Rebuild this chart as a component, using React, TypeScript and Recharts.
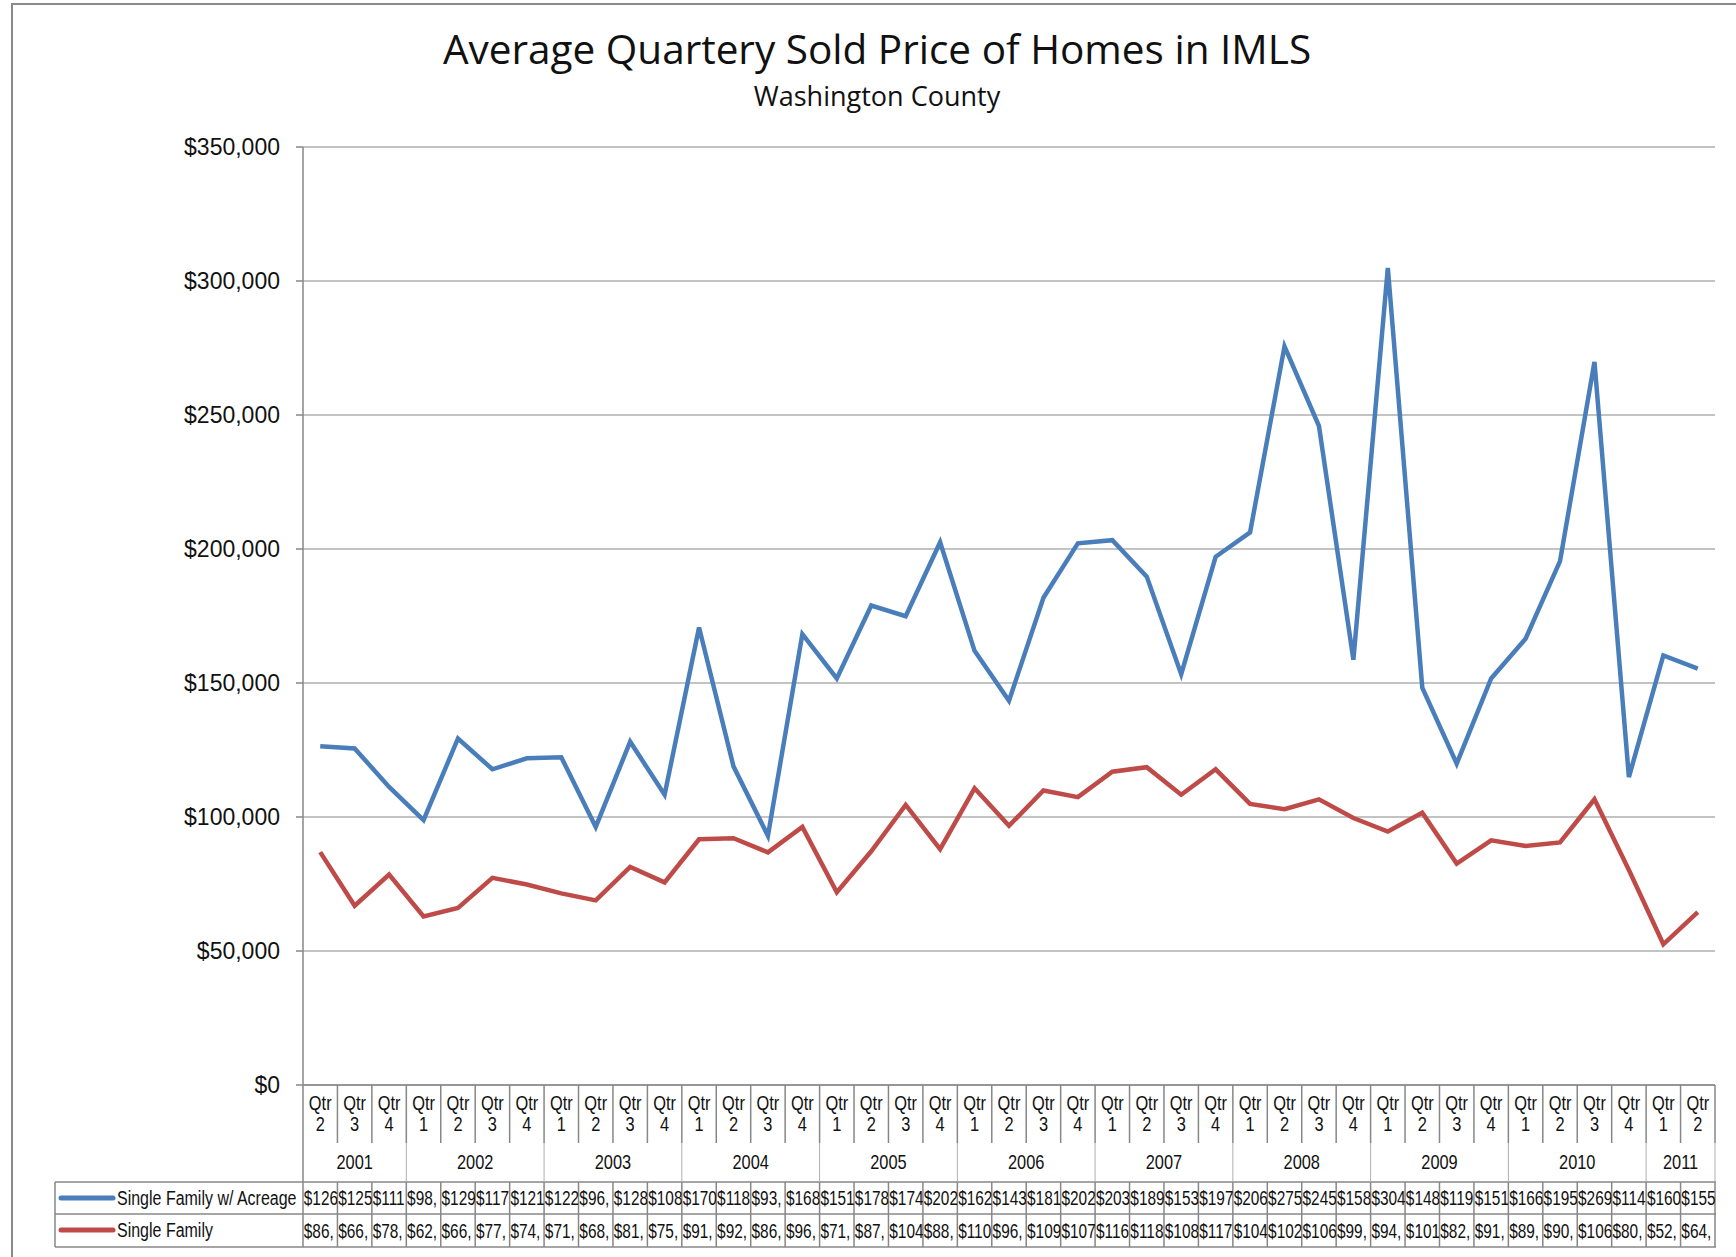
import { LineChart, Line, XAxis, YAxis, CartesianGrid } from "recharts";

// quarters shown under each year, Q2 2001 .. Q2 2011
const years = ["2001", "2002", "2003", "2004", "2005", "2006", "2007", "2008", "2009", "2010", "2011"];
const quartersPerYear = [
  [2, 3, 4],
  [1, 2, 3, 4],
  [1, 2, 3, 4],
  [1, 2, 3, 4],
  [1, 2, 3, 4],
  [1, 2, 3, 4],
  [1, 2, 3, 4],
  [1, 2, 3, 4],
  [1, 2, 3, 4],
  [1, 2, 3, 4],
  [1, 2],
];

const acreage = [
  126400, 125600, 111200, 98800, 129300, 117800, 121900, 122300, 96300, 128100, 108300,
  170700, 118900, 93000, 168200, 151700, 178900, 174900, 202500, 162000, 143400, 181800,
  202100, 203300, 189700, 153300, 197100, 206200, 275600, 245900, 158700, 304900, 148300,
  119900, 151700, 166500, 195500, 269800, 114900, 160300, 155400,
];
const singleFamily = [
  86900, 66900, 78500, 62900, 66100, 77300, 74800, 71500, 68900, 81400, 75600, 91700,
  92100, 86800, 96300, 71900, 87200, 104500, 88000, 110700, 96700, 109900, 107400, 116900,
  118600, 108300, 117800, 104900, 102900, 106600, 99600, 94600, 101600, 82600, 91300,
  89200, 90500, 106600, 80200, 52500, 64500,
];

const yTicks = [0, 50000, 100000, 150000, 200000, 250000, 300000, 350000];

const seriesNames = ["Single Family w/ Acreage", "Single Family"];
const BLUE = "#4a7ebb";
const RED = "#be4b48";
const GRID = "#878787";

const W = 1736;
const H = 1257;
const PLOT_L = 303;
const PLOT_R = 1715;
const PLOT_T = 147;
const PLOT_B = 1085;
const BAND = (PLOT_R - PLOT_L) / acreage.length;

const SANS = '"Liberation Sans", Arial, sans-serif';

// flatten quarters with their year info
const cats: { q: number; yearIdx: number; firstOfYear: boolean; lastOfYear: boolean }[] = [];
quartersPerYear.forEach((qs, yi) => {
  qs.forEach((q, k) => {
    cats.push({ q, yearIdx: yi, firstOfYear: k === 0, lastOfYear: k === qs.length - 1 });
  });
});

const data = cats.map((c, i) => ({
  key: `${years[c.yearIdx]} Q${c.q}`,
  acreage: acreage[i],
  single: singleFamily[i],
}));

// the table cells are too narrow, so values appear cut off
const cellText = (v: number) => "$" + Math.floor(v / 1000) + (v < 100000 ? "," : "");

const ROW1_T = 1182;
const ROW2_T = 1214;
const ROW_B = 1247;
const TABLE_L = 55;
const QSEP_B = 1143;
const FS = 20;

// no narrow font installed: squeeze Liberation Sans horizontally
function NText(props: { x: number; y: number; anchor?: string; size?: number; sx?: number; children: any }) {
  const { x, y, anchor = "middle", size = FS, sx = 0.82, children } = props;
  return (
    <text
      transform={`translate(${x},${y}) scale(${sx},1)`}
      textAnchor={anchor}
      fontFamily={SANS}
      fontSize={size}
      fill="#111"
    >
      {children}
    </text>
  );
}

function Cell(props: { left: number; top: number; h: number; text: string }) {
  const { left, top, h, text } = props;
  return (
    <svg x={left} y={top} width={BAND} height={h} overflow="hidden">
      <NText x={0.8} y={h / 2 + 7} anchor="start" size={19.5} sx={0.79}>
        {text}
      </NText>
    </svg>
  );
}

function TableTick(props: any) {
  const { x, payload } = props;
  const i = payload.index;
  const c = cats[i];
  const left = x - BAND / 2;
  const right = x + BAND / 2;
  const line = { stroke: GRID, strokeWidth: 1.5 };
  const yearLen = quartersPerYear[c.yearIdx].length;

  return (
    <g>
      <NText x={x} y={1110}>Qtr</NText>
      <NText x={x} y={1131}>{c.q}</NText>
      <line x1={right} x2={right} y1={PLOT_B} y2={QSEP_B} {...line} />
      {c.lastOfYear && <line x1={right} x2={right} y1={QSEP_B} y2={ROW1_T} stroke="#b0b0b0" strokeWidth={1} />}
      <line x1={right} x2={right} y1={ROW1_T} y2={ROW_B} {...line} />
      {c.firstOfYear && (
        <NText x={left + (yearLen * BAND) / 2} y={1169}>
          {years[c.yearIdx]}
        </NText>
      )}
      <Cell left={left} top={ROW1_T} h={ROW2_T - ROW1_T} text={cellText(acreage[i])} />
      <Cell left={left} top={ROW2_T} h={ROW_B - ROW2_T} text={cellText(singleFamily[i])} />
      {i === 0 && (
        <g>
          <line x1={left} x2={left} y1={PLOT_B} y2={ROW_B} {...line} />
          <line x1={TABLE_L} x2={TABLE_L} y1={ROW1_T} y2={ROW_B} {...line} />
          {[ROW1_T, ROW2_T, ROW_B].map((yy) => (
            <line key={yy} x1={TABLE_L} x2={PLOT_R + 1} y1={yy} y2={yy} {...line} />
          ))}
          <line x1={61} x2={113} y1={1198} y2={1198} stroke={BLUE} strokeWidth={5} strokeLinecap="round" />
          <line x1={61} x2={113} y1={1230} y2={1230} stroke={RED} strokeWidth={5} strokeLinecap="round" />
          <NText x={117} y={1205} anchor="start" size={19.5}>
            {seriesNames[0]}
          </NText>
          <NText x={117} y={1237} anchor="start" size={19.5}>
            {seriesNames[1]}
          </NText>
        </g>
      )}
    </g>
  );
}

export default function App() {
  return (
    <div style={{ position: "absolute", left: 0, top: 0, width: W, height: H, background: "#fff" }}>
      <div
        style={{
          position: "absolute",
          left: 11,
          top: 3,
          width: W,
          height: H,
          borderLeft: "2px solid #8a8a8a",
          borderTop: "2px solid #8a8a8a",
        }}
      />
      <div
        style={{
          position: "absolute",
          left: 0,
          width: 1754,
          top: 25,
          textAlign: "center",
          fontFamily: '"Open Sans", sans-serif',
          fontSize: 40.5,
          lineHeight: "48px",
          color: "#111",
        }}
      >
        Average Quartery Sold Price of Homes in IMLS
      </div>
      <div
        style={{
          position: "absolute",
          left: 0,
          width: 1754,
          top: 80,
          textAlign: "center",
          fontFamily: '"Open Sans", sans-serif',
          fontSize: 27,
          lineHeight: "32px",
          color: "#111",
        }}
      >
        Washington County
      </div>
      <div style={{ position: "absolute", left: 0, top: 0 }}>
        <LineChart
          width={W}
          height={H}
          data={data}
          margin={{ top: PLOT_T, right: W - PLOT_R, bottom: 0, left: 0 }}
        >
          <CartesianGrid vertical={false} stroke={GRID} strokeWidth={1.2} />
          <XAxis
            dataKey="key"
            interval={0}
            height={H - PLOT_B}
            padding={{ left: BAND / 2, right: BAND / 2 }}
            tickLine={false}
            tickSize={0}
            tickMargin={0}
            axisLine={{ stroke: GRID, strokeWidth: 1.5 }}
            tick={<TableTick />}
          />
          <YAxis
            width={PLOT_L}
            domain={[0, 350000]}
            ticks={yTicks}
            interval={0}
            tickSize={7}
            tickMargin={16}
            axisLine={{ stroke: GRID, strokeWidth: 1.5 }}
            tickLine={{ stroke: GRID, strokeWidth: 1.5 }}
            tick={{ fontFamily: SANS, fontSize: 23, fill: "#111" }}
            tickFormatter={(v: number) => "$" + v.toLocaleString("en-US")}
          />
          <Line
            type="linear"
            dataKey="acreage"
            name={seriesNames[0]}
            stroke={BLUE}
            strokeWidth={4.5}
            dot={false}
            activeDot={false}
            isAnimationActive={false}
          />
          <Line
            type="linear"
            dataKey="single"
            name={seriesNames[1]}
            stroke={RED}
            strokeWidth={4.5}
            dot={false}
            activeDot={false}
            isAnimationActive={false}
          />
        </LineChart>
      </div>
    </div>
  );
}
